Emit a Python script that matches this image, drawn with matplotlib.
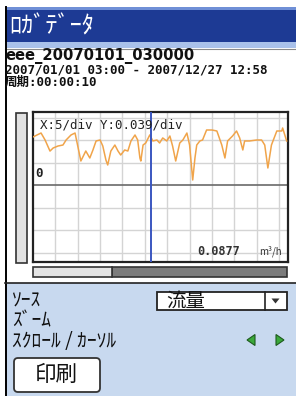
import matplotlib
matplotlib.use("Agg")
import matplotlib.pyplot as plt
from matplotlib.patches import Rectangle, FancyBboxPatch, Polygon
import numpy as np

# ---- data ----
time_x = [0.0, 0.9, 1.8, 2.7, 3.8, 4.5, 5.6, 6.7, 7.4, 8.5, 9.4, 10.7, 11.8, 12.7,
          13.4, 14.1, 15.0, 15.6, 16.3, 16.7, 17.4, 18.3, 19.0, 19.6, 20.5, 21.2,
          21.9, 22.8, 23.4, 23.9, 24.1, 24.6, 25.2, 26.1, 26.8, 27.7, 28.3, 29.0,
          29.9, 30.6, 31.2, 31.9, 32.8, 33.5, 34.4, 35.0, 35.7, 36.2, 36.6, 37.3,
          37.9, 38.8, 40.0, 41.1, 42.2, 42.9, 43.5, 44.6, 45.5, 46.2, 46.9, 47.3,
          48.4, 50.0, 51.1, 51.8, 52.5, 53.3, 54.5, 55.6, 55.8, 56.7]
flow = [0.0837, 0.0872, 0.0906, 0.0785, 0.0593, 0.0646, 0.0681, 0.0698, 0.0785,
        0.0872, 0.0906, 0.0421, 0.0594, 0.0473, 0.0612, 0.0768, 0.0785, 0.0681,
        0.0438, 0.0352, 0.0594, 0.0698, 0.0594, 0.0525, 0.0612, 0.0594, 0.0768,
        0.0872, 0.0785, 0.0473, 0.0421, 0.0698, 0.0733, 0.0872, 0.0768, 0.0785,
        0.0733, 0.0820, 0.0768, 0.0854, 0.0681, 0.0421, 0.0733, 0.0785, 0.0906,
        0.0698, 0.0092, 0.0473, 0.0698, 0.0768, 0.0785, 0.0958, 0.0958, 0.0941,
        0.0698, 0.0473, 0.0768, 0.0854, 0.0941, 0.0820, 0.0612, 0.0768, 0.0768,
        0.0785, 0.0785, 0.0698, 0.0300, 0.0698, 0.0941, 0.0941, 0.0993, 0.0768]
cursor_x = 26.3
x_div = 5
y_div = 0.039
cursor_label = "0.0877"
unit_label = "m³/h"
title = "ﾛｶﾞﾃﾞｰﾀ"
file_name = "eee_20070101_030000"
range_text = "2007/01/01 03:00 - 2007/12/27 12:58"
period_text = "周期:00:00:10"
source_label = "ｿｰｽ"
source_value = "流量"
zoom_label = "ｽﾞｰﾑ"
scroll_label = "ｽｸﾛｰﾙ / ｶｰｿﾙ"
print_label = "印刷"

W, H = 296, 396
fig = plt.figure(figsize=(W / 100, H / 100), dpi=100)
fig.patch.set_facecolor("white")

bg = fig.add_axes([0, 0, 1, 1])
bg.set_xlim(0, W)
bg.set_ylim(H, 0)
bg.axis("off")

JP = ["Noto Sans CJK JP", "DejaVu Sans"]
MONO = ["DejaVu Sans Mono", "Noto Sans CJK JP"]
SANS = ["DejaVu Sans", "Noto Sans CJK JP"]

# title bar
bg.add_patch(Rectangle((5, 7), W - 5, 37, facecolor="#1d3a94", edgecolor="none"))
bg.add_patch(Rectangle((5, 7), W - 5, 3, facecolor="#6f8fd6", edgecolor="none"))
bg.add_patch(Rectangle((5, 42), W - 5, 6, facecolor="#a9c1ea", edgecolor="none"))
bg.plot([5, W], [48.5, 48.5], color="#8a8a8a", lw=0.8)
bg.text(9, 26.5, title, color="white", fontsize=17.5, family=JP, va="center", ha="left")

# left border
bg.plot([5.5, 5.5], [7, H], color="black", lw=1.4)

# info texts
bg.text(5, 56.5, file_name, fontsize=10.6, family=SANS, weight="bold", va="center",
        ha="left", color="#111111")
bg.text(5, 70, range_text, fontsize=9.0, family=MONO, weight="bold", va="center",
        ha="left", color="#111111")
bg.text(5, 82.5, period_text, fontsize=9.0, family=MONO, weight="bold", va="center",
        ha="left", color="#111111")

# left vertical scrollbar
bg.add_patch(Rectangle((15.5, 113), 11, 150, facecolor="#e2e2e2", edgecolor="#333333", lw=1.2))

# bottom scrollbar
bg.add_patch(Rectangle((112, 267), 175, 10, facecolor="#7c7c7c", edgecolor="#333333", lw=1.2))
bg.add_patch(Rectangle((32.5, 267), 79.5, 10, facecolor="#e4e4e4", edgecolor="#333333", lw=1.2))

# bottom panel
bg.add_patch(Rectangle((5, 283), W - 5, H - 283, facecolor="#c8d9ef", edgecolor="none"))
bg.plot([5, W], [282.5, 282.5], color="#222222", lw=1.2)

bg.text(12, 301, source_label, fontsize=14, family=JP, va="center", ha="left", color="#111111")
bg.text(12, 321, zoom_label, fontsize=14, family=JP, va="center", ha="left", color="#111111")
bg.text(12, 341, scroll_label, fontsize=14, family=JP, va="center", ha="left", color="#111111")

# dropdown
bg.add_patch(Rectangle((157, 292), 130, 18, facecolor="white", edgecolor="#222222", lw=1.3))
bg.plot([265, 265], [292, 310], color="#222222", lw=1.2)
bg.add_patch(Polygon([[271.5, 298.5], [279.5, 298.5], [275.5, 303.5]], closed=True,
                     facecolor="#333333", edgecolor="none"))
bg.text(166, 301, source_value, fontsize=14, family=JP, va="center", ha="left", color="#111111")

# green arrows
bg.add_patch(Polygon([[247, 340], [255, 334.5], [255, 345.5]], closed=True,
                     facecolor="#3aa83a", edgecolor="#1d5a1d", lw=0.8))
bg.add_patch(Polygon([[284, 340], [276, 334.5], [276, 345.5]], closed=True,
                     facecolor="#3aa83a", edgecolor="#1d5a1d", lw=0.8))

# print button
bg.add_patch(FancyBboxPatch((14, 358), 86, 34, boxstyle="round,pad=0,rounding_size=4",
                            facecolor="white", edgecolor="#333333", lw=1.3))
bg.text(56, 375, print_label, fontsize=15.5, family=JP, va="center", ha="center", color="#111111")

# ---- chart ----
x0, x1 = 33, 288
y0, y1 = 112, 262
ax = fig.add_axes([x0 / W, 1 - y1 / H, (x1 - x0) / W, (y1 - y0) / H])
ax.set_facecolor("white")
ax.set_xlim(0, 57)
ax.set_ylim(-0.1329, 0.127)
for k in range(1, 12):
    ax.axvline(k * x_div, color="#d4d4d4", lw=1.0, zorder=1)
for k in range(-3, 4):
    if k == 0:
        ax.axhline(0, color="#6a6a6a", lw=1.2, zorder=1)
    else:
        ax.axhline(k * y_div, color="#d4d4d4", lw=1.0, zorder=1)
ax.plot(time_x, flow, color="#f0a44a", lw=1.1, zorder=3)
ax.axvline(cursor_x, color="#3a56c0", lw=1.4, zorder=4)
ax.set_xticks([])
ax.set_yticks([])
for s in ax.spines.values():
    s.set_linewidth(1.6)
    s.set_color("#222222")

ax.text(0.027, 0.915, f"X:{x_div}/div Y:{y_div}/div", transform=ax.transAxes,
        fontsize=9.0, family=MONO, va="center", ha="left", color="#222222", zorder=5)
ax.text(0.008, 0.01, "0", transform=ax.get_yaxis_transform(), fontsize=9,
        family=MONO, weight="bold", va="bottom", ha="left", color="#222222")
ax.text(0.645, 0.07, cursor_label, transform=ax.transAxes, fontsize=8.6,
        family=MONO, weight="bold", va="center", ha="left", color="#333333")
ax.text(0.975, 0.07, unit_label, transform=ax.transAxes, fontsize=7,
        family=JP, va="center", ha="right", color="#333333")

fig.savefig("out.png", dpi=100)
